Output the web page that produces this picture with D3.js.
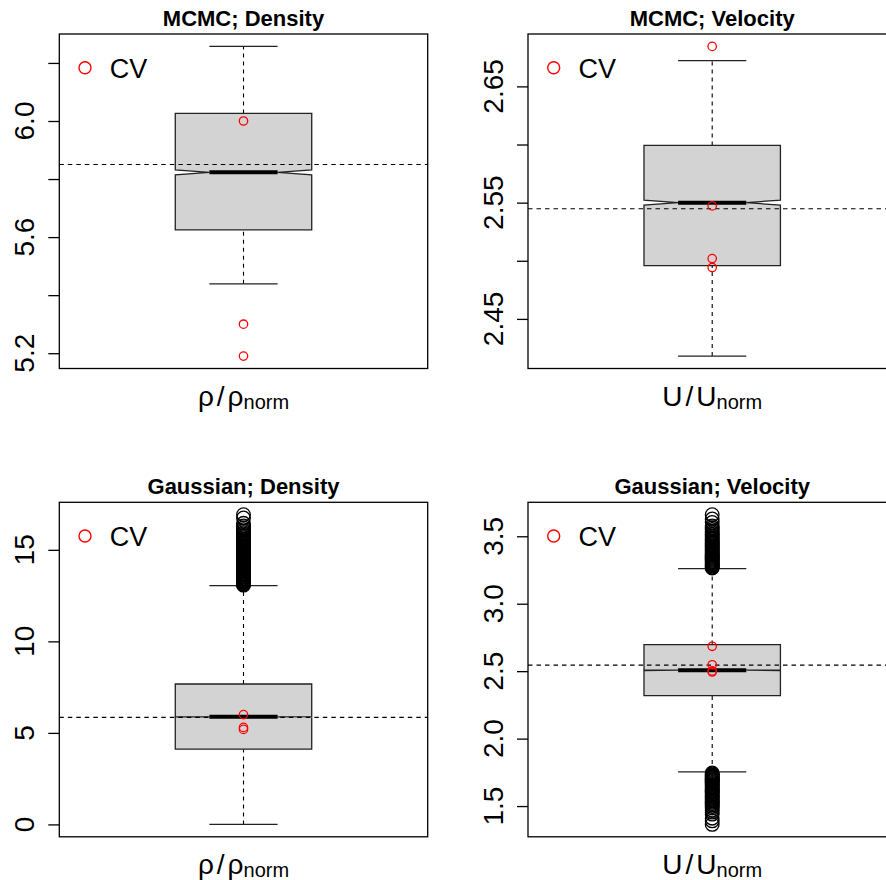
<!DOCTYPE html>
<html>
<head>
<meta charset="utf-8">
<script src="https://cdn.jsdelivr.net/npm/d3@7"></script>
<style>
body { margin: 0; background: #fff; }
svg { display: block; font-family: "Liberation Sans", Arial, sans-serif; }
</style>
</head>
<body>
<script>
// box stats: lower whisker, q1, median, q3, upper whisker
var densityMcmcStats = [5.439, 5.625, 5.823, 6.026, 6.257];
var densityMcmcNotch = 0.0086;
var densityMcmcOutliers = [];

var velocityMcmcStats = [2.418, 2.4958, 2.55, 2.5992, 2.6721];
var velocityMcmcNotch = 0.0022;
var velocityMcmcOutliers = [];

var densityGaussStats = [0, 4.11, 5.88, 7.67, 13.05];
var densityGaussNotch = 0.01;
var densityGaussOutliers = [13.07, 13.11, 13.14, 13.18, 13.22, 13.25, 13.29, 13.33, 13.38, 13.42,
  13.46, 13.51, 13.55, 13.6, 13.64, 13.69, 13.73, 13.78, 13.83, 13.88, 13.93, 13.98, 14.03, 14.08,
  14.13, 14.18, 14.24, 14.29, 14.34, 14.4, 14.45, 14.5, 14.56, 14.61, 14.67, 14.72, 14.78, 14.83,
  14.89, 14.95, 15.0, 15.06, 15.12, 15.18, 15.24, 15.3, 15.36, 15.42, 15.48, 15.54, 15.6, 15.66,
  15.73, 15.8, 15.87, 15.94, 16.02, 16.1, 16.2, 16.31, 16.45, 16.74, 16.92];

var velocityGaussStats = [1.753, 2.319, 2.507, 2.697, 3.26];
var velocityGaussNotch = 0.002;
var velocityGaussOutliers = [3.265, 3.272, 3.279, 3.286, 3.293, 3.3, 3.307, 3.314, 3.321, 3.328,
  3.336, 3.343, 3.35, 3.358, 3.366, 3.374, 3.382, 3.39, 3.398, 3.406, 3.414, 3.422, 3.43, 3.439,
  3.448, 3.457, 3.466, 3.475, 3.485, 3.495, 3.505, 3.515, 3.526, 3.538, 3.55, 3.563, 3.577, 3.602,
  3.628, 3.66,
  1.745, 1.738, 1.731, 1.724, 1.717, 1.71, 1.703, 1.696, 1.689, 1.682, 1.675, 1.668, 1.661, 1.654,
  1.647, 1.64, 1.632, 1.624, 1.616, 1.608, 1.6, 1.591, 1.582, 1.573, 1.564, 1.555, 1.545, 1.535,
  1.527, 1.518, 1.508, 1.497, 1.485, 1.47, 1.455, 1.44, 1.41, 1.39, 1.364];

// CV values and reference (dashed) lines
var cvDensity = [6.0, 5.30, 5.19];
var cvVelocity = [2.6844, 2.5472, 2.5019, 2.4942];
var refDensity = 5.85;
var refVelocity = 2.5448;

var titles = ["MCMC; Density", "MCMC; Velocity", "Gaussian; Density", "Gaussian; Velocity"];

var densityMcmcTicks = [5.2, 5.4, 5.6, 5.8, 6.0, 6.2];
var densityMcmcTickLabels = ["5.2", "", "5.6", "", "6.0", ""];
var velocityMcmcTicks = [2.45, 2.50, 2.55, 2.60, 2.65];
var velocityMcmcTickLabels = ["2.45", "", "2.55", "", "2.65"];
var densityGaussTicks = [0, 5, 10, 15];
var densityGaussTickLabels = ["0", "5", "10", "15"];
var velocityGaussTicks = [1.5, 2.0, 2.5, 3.0, 3.5];
var velocityGaussTickLabels = ["1.5", "2.0", "2.5", "3.0", "3.5"];

var panels = [
  {title: titles[0], stats: densityMcmcStats, notch: densityMcmcNotch, out: densityMcmcOutliers,
   cv: cvDensity, ref: refDensity, ticks: densityMcmcTicks, labels: densityMcmcTickLabels, sym: "ρ", left: 59.3, top: 34},
  {title: titles[1], stats: velocityMcmcStats, notch: velocityMcmcNotch, out: velocityMcmcOutliers,
   cv: cvVelocity, ref: refVelocity, ticks: velocityMcmcTicks, labels: velocityMcmcTickLabels, sym: "U", left: 528, top: 34},
  {title: titles[2], stats: densityGaussStats, notch: densityGaussNotch, out: densityGaussOutliers,
   cv: cvDensity, ref: refDensity, ticks: densityGaussTicks, labels: densityGaussTickLabels, sym: "ρ", left: 59.3, top: 502.3},
  {title: titles[3], stats: velocityGaussStats, notch: velocityGaussNotch, out: velocityGaussOutliers,
   cv: cvVelocity, ref: refVelocity, ticks: velocityGaussTicks, labels: velocityGaussTickLabels, sym: "U", left: 528, top: 502.3}
];

var W = 886, H = 880, pw = 368.4, ph = 334.5;

var svg = d3.select("body").append("svg")
  .attr("width", W)
  .attr("height", H);

panels.forEach(function(p) {
  var g = svg.append("g");
  var all = p.stats.concat(p.out, p.cv);
  var lo = d3.min(all), hi = d3.max(all), r = hi - lo;
  var y = d3.scaleLinear().domain([lo - 0.04 * r, hi + 0.04 * r]).range([p.top + ph, p.top]);
  var x = d3.scaleLinear().domain([0.46, 1.54]).range([p.left, p.left + pw]);
  var s = p.stats, c = x(1), wid = x(1.2) - x(1), stp = x(1.1) - x(1);

  // whiskers
  g.selectAll("line.whisk")
    .data([[s[0], s[1]], [s[3], s[4]]])
    .enter().append("line")
    .attr("x1", c).attr("x2", c)
    .attr("y1", function(d) { return y(d[0]); })
    .attr("y2", function(d) { return y(d[1]); })
    .attr("stroke", "#000").attr("stroke-width", 1.1)
    .attr("stroke-dasharray", "4,4");
  g.selectAll("line.staple")
    .data([s[0], s[4]])
    .enter().append("line")
    .attr("x1", c - stp).attr("x2", c + stp)
    .attr("y1", function(d) { return y(d); })
    .attr("y2", function(d) { return y(d); })
    .attr("stroke", "#222").attr("stroke-width", 1.3);

  // notched box
  var fx = [-1, 1, 1, 0.5, 1, 1, -1, -1, -0.5, -1];
  var fy = [s[1], s[1], s[2] - p.notch, s[2], s[2] + p.notch, s[3], s[3], s[2] + p.notch, s[2], s[2] - p.notch];
  g.append("polygon")
    .attr("points", fx.map(function(f, i) { return (c + f * wid) + "," + y(fy[i]); }).join(" "))
    .attr("fill", "#d3d3d3")
    .attr("stroke", "#222").attr("stroke-width", 1.3);
  g.append("line")
    .attr("x1", c - wid / 2).attr("x2", c + wid / 2)
    .attr("y1", y(s[2])).attr("y2", y(s[2]))
    .attr("stroke", "#000").attr("stroke-width", 4);

  // outliers
  g.selectAll("circle.out")
    .data(p.out)
    .enter().append("circle")
    .attr("cx", c).attr("cy", function(d) { return y(d); })
    .attr("r", 6.8)
    .attr("fill", "none").attr("stroke", "#000").attr("stroke-width", 1.3);

  // reference line
  g.append("line")
    .attr("x1", p.left).attr("x2", p.left + pw)
    .attr("y1", y(p.ref)).attr("y2", y(p.ref))
    .attr("stroke", "#000").attr("stroke-width", 1.1)
    .attr("stroke-dasharray", "4.5,4");

  // CV points
  g.selectAll("circle.cv")
    .data(p.cv)
    .enter().append("circle")
    .attr("cx", c).attr("cy", function(d) { return y(d); })
    .attr("r", 4.2)
    .attr("fill", "none").attr("stroke", "#ff0000").attr("stroke-width", 1.3);

  // frame
  g.append("rect")
    .attr("x", p.left).attr("y", p.top)
    .attr("width", pw).attr("height", ph)
    .attr("fill", "none").attr("stroke", "#000").attr("stroke-width", 1.3);

  // y axis
  var ax = g.append("g")
    .attr("transform", "translate(" + p.left + ",0)")
    .call(d3.axisLeft(y).tickValues(p.ticks).tickSize(11).tickSizeOuter(0).tickFormat(""));
  ax.select(".domain").remove();
  ax.selectAll("line").attr("stroke", "#000").attr("stroke-width", 1.3);
  g.selectAll("text.tl")
    .data(p.ticks)
    .enter().append("text")
    .attr("transform", function(d) { return "translate(" + (p.left - 25.5) + "," + y(d) + ") rotate(-90)"; })
    .attr("text-anchor", "middle")
    .attr("font-size", 28)
    .text(function(d, i) { return p.labels[i]; });

  // title
  g.append("text")
    .attr("x", p.left + pw / 2).attr("y", p.top - 8)
    .attr("text-anchor", "middle")
    .attr("font-size", 22).attr("font-weight", "bold")
    .text(p.title);

  // x label
  var xl = g.append("text")
    .attr("x", c).attr("y", p.top + ph + 37)
    .attr("text-anchor", "middle")
    .attr("font-size", 28);
  xl.append("tspan").text(p.sym);
  xl.append("tspan").attr("dx", 3).text("/");
  xl.append("tspan").attr("dx", 3).text(p.sym);
  xl.append("tspan").attr("font-size", 20).attr("dy", 3).text("norm");

  // legend
  g.append("circle")
    .attr("cx", p.left + 25.7).attr("cy", p.top + 33.7)
    .attr("r", 6).attr("fill", "none")
    .attr("stroke", "#ff0000").attr("stroke-width", 1.4);
  g.append("text")
    .attr("x", p.left + 50.5).attr("y", p.top + 43.7)
    .attr("font-size", 27)
    .text("CV");
});
</script>
</body>
</html>
